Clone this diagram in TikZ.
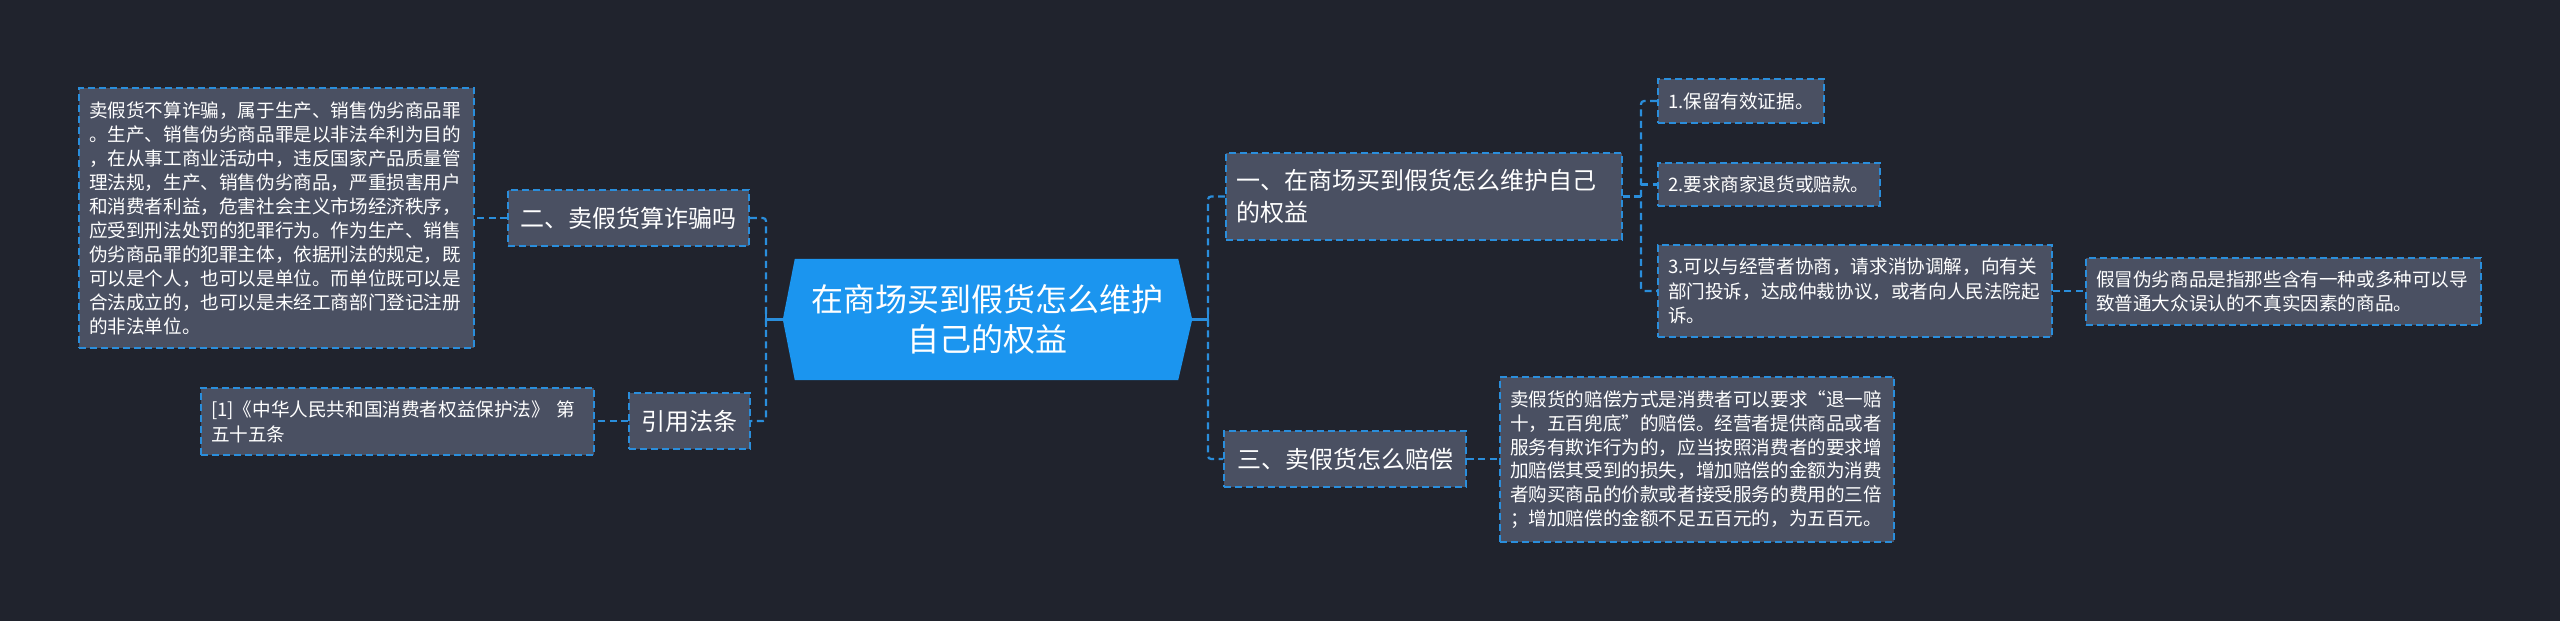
\documentclass[tikz,border=0pt]{standalone}
\usepackage{fontspec}
\setmainfont{Noto Sans CJK SC}
\newfontfamily\cjk{Noto Sans CJK SC}
\definecolor{bgc}{HTML}{20232D}
\definecolor{boxfill}{HTML}{4A5062}
\definecolor{lineblue}{HTML}{2A8EDC}
\definecolor{centerblue}{HTML}{1B95EF}
\begin{document}
\begin{tikzpicture}[x=1pt,y=-1pt,
  box/.style={draw=lineblue, fill=boxfill, line width=1.8pt, dash pattern=on 7pt off 4pt,
    text=white, inner xsep=10pt, inner ysep=0pt, align=left, anchor=center},
  small/.style={font=\cjk\fontsize{18.6}{24}\selectfont},
  big/.style={font=\cjk\fontsize{24}{32}\selectfont, align=left},
  conn/.style={draw=lineblue, line width=2.2pt, dash pattern=on 7pt off 4.5pt, rounded corners=3pt},
  solidconn/.style={draw=lineblue, line width=2.2pt}
]
\useasboundingbox (0,0) rectangle (2560,621);
\fill[bgc] (0,0) rectangle (2560,621);

% center node
\node (C) [minimum width=409pt, minimum height=121pt, inner sep=0pt, text=white, align=center,
  font=\cjk\fontsize{32}{40}\selectfont] at (987.5,319.5) {};
\fill[centerblue] (C.west) -- ([xshift=12pt]C.north west) -- ([xshift=-14pt]C.north east) -- (C.east)
  -- ([xshift=-14pt]C.south east) -- ([xshift=12pt]C.south west) -- cycle;
\node (Ct) [text=white, align=center, font=\cjk\fontsize{32}{40}\selectfont] at (C.center) {在商场买到假货怎么维护\\自己的权益};

% left side
\node (L0) [box, small, text width=375pt, minimum height=260pt] at (276.5,218) {卖假货不算诈骗，属于生产、销售伪劣商品罪\\。生产、销售伪劣商品罪是以非法牟利为目的\\，在从事工商业活动中，违反国家产品质量管\\理法规，生产、销售伪劣商品，严重损害用户\\和消费者利益，危害社会主义市场经济秩序，\\应受到刑法处罚的犯罪行为。作为生产、销售\\伪劣商品罪的犯罪主体，依据刑法的规定，既\\可以是个人，也可以是单位。而单位既可以是\\合法成立的，也可以是未经工商部门登记注册\\的非法单位。};
\node (L1) [box, big, text width=221pt, minimum height=56pt, align=center] at (628.5,218) {二、卖假货算诈骗吗};
\node (L2) [box, big, text width=101pt, minimum height=56pt, align=center] at (689.5,421) {引用法条};
\node (L3) [box, small, font=\cjk\fontsize{18.6}{25}\selectfont, text width=373pt, minimum height=67pt] at (397.5,421.5) {[1]《中华人民共和国消费者权益保护法》 第\\五十五条};

% right side
\node (R1) [box, big, text width=376pt, minimum height=87pt] at (1424,196.5) {一、在商场买到假货怎么维护自己\\的权益};
\node (R2) [box, big, text width=222pt, minimum height=56pt, align=center] at (1345,459) {三、卖假货怎么赔偿};
\node (R3) [box, small, font=\cjk\fontsize{18.6}{23.7}\selectfont, text width=374pt, minimum height=165pt] at (1697,459.5) {卖假货的赔偿方式是消费者可以要求“退一赔\\十，五百兜底”的赔偿。经营者提供商品或者\\服务有欺诈行为的，应当按照消费者的要求增\\加赔偿其受到的损失，增加赔偿的金额为消费\\者购买商品的价款或者接受服务的费用的三倍\\；增加赔偿的金额不足五百元的，为五百元。};
\node (I1) [box, small, text width=146pt, minimum height=44pt] at (1741,101) {1.保留有效证据。};
\node (I2) [box, small, text width=202pt, minimum height=43pt] at (1769,184.5) {2.要求商家退货或赔款。};
\node (I3) [box, small, font=\cjk\fontsize{18.6}{24.5}\selectfont, text width=374pt, minimum height=92pt] at (1855,291) {3.可以与经营者协商，请求消协调解，向有关\\部门投诉，达成仲裁协议，或者向人民法院起\\诉。};
\node (I4) [box, small, text width=375pt, minimum height=67pt] at (2283.5,291.5) {假冒伪劣商品是指那些含有一种或多种可以导\\致普通大众误认的不真实因素的商品。};

% bus coordinates
\coordinate (busL) at (766,319.5);
\coordinate (busR) at (1208,319.5);
\coordinate (busI) at (1641,196.5);

% connectors
\draw[solidconn] (C.west) -- (busL);
\draw[solidconn] ([yshift=-7pt]busL) -- ([yshift=7pt]busL);
\draw[conn] (L1.east) -| (busL) |- (L2.east);
\draw[conn] (L1.west) -- (L0.east |- L1.west);
\draw[conn] (L2.west) -- (L3.east |- L2.west);

\draw[solidconn] (C.east) -- (busR);
\draw[solidconn] ([yshift=-7pt]busR) -- ([yshift=7pt]busR);
\draw[conn] (R1.west) -| (busR) |- (R2.west);
\draw[conn] (R2.east) -- (R3.west |- R2.east);

\draw[conn] (R1.east) -- (busI);
\draw[conn] (I1.west) -| (busI) |- (I3.west);
\draw[conn] (busI |- I2.west) -- (I2.west);
\draw[conn] (I3.east) -- (I4.west |- I3.east);
\end{tikzpicture}
\end{document}
